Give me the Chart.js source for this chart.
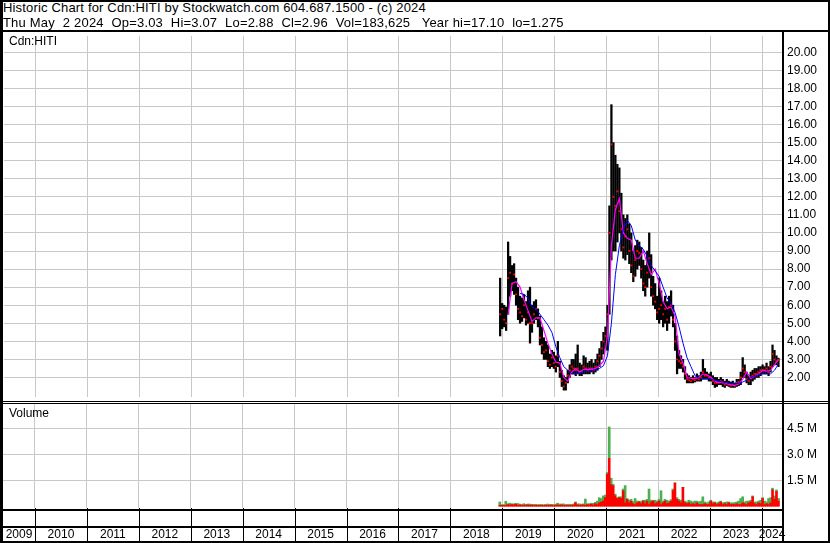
<!DOCTYPE html>
<html>
<head>
<meta charset="utf-8">
<script src="https://cdn.jsdelivr.net/npm/chart.js@4.4.1/dist/chart.umd.min.js"></script>
<style>
  body { margin: 0; background: #fff; }
  #wrap { position: relative; width: 830px; height: 543px; overflow: hidden;
          font-family: "Liberation Sans", Arial, sans-serif; font-size: 12px; color: #000; }
  #wrap canvas { position: absolute; left: 0; }
  .ln { position: absolute; background: #000; }
  .head { position: absolute; left: 3px; font-size: 13px; line-height: 15px; white-space: pre; letter-spacing: 0.17px; }
  .tag { position: absolute; left: 9px; line-height: 15px; white-space: pre; }
</style>
</head>
<body>
<div id="wrap">
  <canvas id="priceChart" width="830" height="369" style="top:32px"></canvas>
  <canvas id="volChart" width="830" height="139" style="top:404px"></canvas>

  <div class="head" style="top:0">Historic Chart for Cdn:HITI by Stockwatch.com 604.687.1500 - (c) 2024</div>
  <div class="head" style="top:15px;word-spacing:0.15px">Thu May  2 2024  Op=3.03  Hi=3.07  Lo=2.88  Cl=2.96  Vol=183,625   Year hi=17.10  lo=1.275</div>
  <div class="tag" style="top:34px">Cdn:HITI</div>
  <div class="tag" style="top:406px">Volume</div>

  <!-- frame -->
  <div class="ln" style="left:0;top:0;width:830px;height:2px"></div>
  <div class="ln" style="left:0;top:0;width:3px;height:543px"></div>
  <div class="ln" style="left:828px;top:0;width:2px;height:543px"></div>
  <div class="ln" style="left:0;top:541px;width:830px;height:2px"></div>
  <div class="ln" style="left:0;top:30px;width:830px;height:2px"></div>
  <div class="ln" style="left:782px;top:30px;width:2px;height:513px"></div>
  <div class="ln" style="left:0;top:401px;width:830px;height:1px"></div>
  <div class="ln" style="left:0;top:403px;width:830px;height:1px"></div>
  <div class="ln" style="left:0;top:509px;width:784px;height:2px"></div>
  <div class="ln" style="left:0;top:526px;width:784px;height:2px"></div>
</div>

<script>
// bars are every 2 weeks, moving averages every 4 weeks
var firstBar = '2018-12-14'
var barDays = 14
var maDays = 28

var xMin = 2009.384
var xMax = 2024.385
var years = [2010, 2011, 2012, 2013, 2014, 2015, 2016, 2017, 2018, 2019, 2020, 2021, 2022, 2023, 2024]

var priceTicks = [2, 3, 4, 5, 6, 7, 8, 9, 10, 11, 12, 13, 14, 15, 16, 17, 18, 19, 20]
var volTicks = [1.5, 3.0, 4.5]

var barHigh = [
  7.5, 6.1, 6.0, 5.9, 9.5, 8.7, 8.2, 8.3, 7.5, 7.0,
  6.5, 6.4, 6.6, 6.2, 6.8, 7.0, 6.0, 6.2, 6.3, 5.8,
  5.4, 4.8, 4.2, 4.0, 3.8, 3.3, 3.5, 3.4, 3.2, 4.0,
  2.9, 2.4, 2.1, 2.0, 2.4, 2.7, 3.0, 3.0, 3.3, 3.8,
  2.8, 2.7, 3.2, 3.1, 2.8, 2.9, 3.0, 2.8, 3.0, 3.3,
  3.6, 4.0, 4.5, 4.8, 6.0, 11.5, 17.1, 15.0, 14.3, 13.8,
  13.6, 12.2, 11.0, 10.8, 11.0, 10.5, 10.0, 9.0, 9.3, 9.6,
  9.5, 9.2, 8.5, 8.2, 9.0, 10.0, 8.8, 7.6, 7.2, 6.5,
  7.5, 6.8, 6.2, 6.5, 6.2, 6.5, 6.8, 6.0, 5.0, 4.3,
  3.5, 3.2, 3.0, 2.6, 2.2, 2.1, 2.0, 2.1, 2.0, 2.2,
  2.1, 2.3, 3.0, 2.5, 2.3, 2.2, 2.3, 2.1, 2.0, 2.0,
  1.9, 2.0, 1.9, 1.8, 1.9, 1.8, 1.75, 1.8, 1.7, 1.9,
  1.9, 2.3, 3.1, 2.7, 2.3, 2.1, 2.3, 2.4, 2.5, 2.5,
  2.6, 2.6, 2.7, 2.6, 2.8, 2.6, 2.9, 3.8, 3.5, 3.2,
  3.07
]

var barLow = [
  4.3, 4.7, 4.8, 4.6, 5.5, 6.5, 6.8, 6.6, 6.0, 5.2,
  5.0, 5.1, 5.3, 4.9, 5.0, 3.9, 4.5, 5.0, 5.2, 4.8,
  3.8, 3.3, 3.0, 3.0, 2.6, 2.5, 2.6, 2.5, 2.3, 2.6,
  2.0, 1.5, 1.3, 1.3, 1.7, 2.0, 2.2, 2.2, 2.1, 2.2,
  2.1, 2.1, 2.2, 2.2, 2.2, 2.2, 2.3, 2.2, 2.3, 2.4,
  2.6, 3.0, 3.3, 3.6, 3.5, 5.5, 8.5, 9.0, 9.0, 9.5,
  10.0, 9.0, 8.6, 8.5, 8.8, 8.3, 7.8, 7.3, 7.6, 8.0,
  8.2, 7.5, 6.8, 6.5, 7.0, 7.5, 6.5, 6.0, 5.8, 5.2,
  5.0, 5.2, 4.8, 5.0, 4.6, 5.0, 5.4, 4.8, 3.5, 2.2,
  2.5, 2.5, 2.3, 1.9, 1.7, 1.7, 1.7, 1.7, 1.75, 1.8,
  1.8, 1.8, 1.9, 1.9, 1.9, 1.8, 1.8, 1.6, 1.45, 1.5,
  1.6, 1.6, 1.5, 1.45, 1.55, 1.5, 1.45, 1.45, 1.45, 1.5,
  1.55, 1.6, 2.0, 2.0, 1.7, 1.6, 1.6, 1.8, 1.9, 2.0,
  2.0, 2.1, 2.2, 2.2, 2.2, 2.1, 2.3, 2.6, 2.7, 2.7,
  2.6
]

var barClose = [
  5.5, 5.8, 5.2, 5.0, 7.5, 7.8, 7.2, 7.7, 6.6, 5.8,
  5.6, 5.4, 6.0, 5.2, 5.6, 5.0, 5.0, 5.5, 5.8, 5.3,
  4.2, 3.8, 3.4, 3.5, 2.9, 2.7, 3.1, 2.8, 2.6, 3.2,
  2.3, 1.8, 1.5, 1.7, 2.1, 2.4, 2.6, 2.5, 2.4, 2.5,
  2.3, 2.3, 2.6, 2.5, 2.4, 2.5, 2.5, 2.4, 2.6, 2.9,
  3.2, 3.6, 4.0, 4.3, 5.5, 10.0, 14.9, 12.0, 11.5, 12.3,
  11.2, 10.2, 9.2, 9.8, 10.2, 9.0, 8.2, 7.6, 8.5, 9.0,
  8.9, 8.0, 7.2, 7.0, 7.8, 8.6, 7.0, 6.5, 6.2, 5.6,
  5.8, 6.0, 5.5, 5.8, 5.2, 5.9, 6.0, 5.2, 4.0, 3.0,
  2.9, 2.8, 2.6, 2.2, 1.9, 1.85, 1.8, 1.9, 1.85, 1.95,
  1.9, 2.0, 2.3, 2.1, 2.1, 2.0, 2.0, 1.8, 1.7, 1.7,
  1.75, 1.8, 1.7, 1.6, 1.7, 1.6, 1.55, 1.6, 1.55, 1.7,
  1.75, 2.0, 2.5, 2.3, 1.9, 1.8, 2.0, 2.1, 2.2, 2.2,
  2.3, 2.4, 2.4, 2.4, 2.5, 2.3, 2.6, 3.3, 3.0, 2.9,
  2.96
]

// short (magenta) and long (blue) moving averages
var maShort = [
  null, null, 5.5, 7.2, 7.3, 7.0, 6.3, 5.7, 5.1, 5.3,
  5.3, 4.6, 3.9, 3.3, 2.85, 2.8, 2.0, 1.8, 2.3, 2.5,
  2.3, 2.45, 2.45, 2.45, 2.5, 2.65, 2.9, 4.3, 9.3, 11.3,
  11.9, 10.0, 9.7, 9.6, 8.6, 8.6, 9.0, 8.3, 7.7, 8.0,
  7.2, 6.2, 5.8, 5.9, 5.4, 3.3, 2.8, 2.0, 1.95, 1.95,
  2.0, 2.2, 2.15, 2.0, 1.8, 1.7, 1.75, 1.65, 1.6, 1.55,
  1.65, 1.9, 2.3, 1.95, 2.05, 2.2, 2.4, 2.35, 2.4, 2.7,
  3.0
]

var maLong = [
  null, null, null, null, null, 6.65, 6.6, 6.4, 5.9, 5.8,
  5.5, 5.2, 4.9, 4.5, 3.7, 3.1, 2.6, 2.4, 2.2, 2.2,
  2.25, 2.3, 2.35, 2.35, 2.45, 2.5, 2.65, 3.2, 5.0, 7.7,
  9.3, 10.2, 10.7, 10.4, 9.6, 9.3, 9.1, 8.7, 8.2, 7.9,
  7.6, 7.0, 6.4, 6.1, 5.6, 4.8, 3.9, 3.1, 2.6, 2.1,
  1.95, 1.95, 1.95, 1.9, 1.85, 1.8, 1.75, 1.7, 1.68, 1.65,
  1.68, 1.75, 1.85, 2.0, 2.05, 2.15, 2.2, 2.2, 2.2, 2.4,
  2.75
]

// volume in millions, down (red) and up (green)
var volDown = [
  .05, .06, .05, .04, .1, .08, .1, .08, .12, .06,
  .08, .05, .07, .06, .08, .06, .07, .05, .06, .05,
  .06, .05, .05, .06, .05, .06, .07, .05, .06, .08,
  .06, .08, .06, .05, .06, .05, .06, .07, .2, .08,
  .06, .07, .08, .06, .1, .08, .12, .07, .15, .1,
  .2, .25, .3, .5, 1.86, 2.77, 1.25, 1.18, .6, .45,
  .5, .45, .9, .2, .4, .2, .3, .15, .1, .2,
  .25, .15, .3, .15, .3, .1, .25, .3, .15, .2,
  .3, .1, .2, .3, .15, .2, .3, .9, 1.35, .4,
  .3, .2, 1.1, .2, .15, .2, .1, .15, .1, .2,
  .1, .1, .1, .15, .1, .1, .3, .15, .2, .1,
  .15, .25, .1, .15, .1, .2, .1, .12, .1, .15,
  .1, .1, .2, .15, .1, .2, .25, .55, .15, .1,
  .2, .15, .45, .1, .15, .1, .2, .95, .4, .85,
  .3
]

var volUp = [
  .2, .03, .05, .25, .05, .1, .05, .06, .05, .1,
  .05, .06, .08, .05, .05, .07, .04, .06, .05, .05,
  .04, .06, .04, .05, .08, .05, .04, .05, .06, .1,
  .07, .05, .08, .06, .05, .07, .05, .06, .05, .06,
  .08, .05, .06, .36, .05, .07, .06, .1, .08, .2,
  .3, .2, .3, .15, .1, 1.83, .38, .1, .1, .05,
  .05, .1, .1, 1.0, .05, .15, .1, .12, .35, .1,
  .05, .12, .05, .2, .1, .9, .1, .05, .2, .1,
  .1, .8, .1, .1, .2, .1, .08, .1, 0, .1,
  .1, .15, 0, .1, .1, .15, .2, .1, .2, .1,
  .15, .2, .45, .1, .1, .15, .05, .1, .05, .1,
  .1, .05, .1, .08, .15, .05, .1, .08, .12, .1,
  .2, .35, .35, .1, .2, .1, .1, .05, .1, .15,
  .1, .2, .05, .2, .1, .35, .3, .1, .2, .1,
  .15
]

var gridGrey = '#c8c8c8'

Chart.defaults.font.family = '"Liberation Sans", Arial, sans-serif'
Chart.defaults.font.size = 12
Chart.defaults.color = '#000'

// data da barra -> ano decimal
function anoDecimal(dias) {
  var d = new Date(firstBar + 'T00:00:00Z')
  d.setUTCDate(d.getUTCDate() + dias)
  var y = d.getUTCFullYear()
  var a = Date.UTC(y, 0, 1)
  var b = Date.UTC(y + 1, 0, 1)
  return y + (d.getTime() - a) / (b - a)
}

var rangePts = []
var closePts = []
for (let i = 0; i < barHigh.length; i++) {
  var x = anoDecimal(i * barDays)
  rangePts.push({ x: x, y: [barLow[i], barHigh[i]] })
  closePts.push({ x: x, y: barClose[i] })
}

var shortPts = []
var longPts = []
for (let i = 0; i < maShort.length; i++) {
  var x = anoDecimal(i * maDays)
  if (maShort[i] != null) shortPts.push({ x: x, y: maShort[i] })
  if (maLong[i] != null) longPts.push({ x: x, y: maLong[i] })
}

var downPts = []
var upPts = []
for (let i = 0; i < volDown.length; i++) {
  var x = anoDecimal(i * barDays)
  downPts.push({ x: x, y: volDown[i] })
  upPts.push({ x: x, y: volUp[i] })
}

// tira o padding automático que o Chart.js põe nas escalas
function semPadding(s) {
  s.paddingTop = 0
  s.paddingBottom = 0
  s.paddingLeft = 0
  s.paddingRight = 0
}

var yearGrid = {
  type: 'linear',
  min: xMin,
  max: xMax,
  offset: false,
  border: { display: false },
  grid: { color: gridGrey, drawTicks: false, offset: false },
  ticks: { display: false },
  afterBuildTicks: function (s) {
    s.ticks = years.map(v => ({ value: v }))
  },
  afterFit: function (s) { s.height = 0; semPadding(s) }
}

new Chart(document.getElementById('priceChart'), {
  type: 'bar',
  data: {
    datasets: [
      { type: 'line', data: longPts, borderColor: '#0000ff', borderWidth: 1, pointRadius: 0, tension: 0 },
      { type: 'line', data: shortPts, borderColor: '#ff00ff', borderWidth: 1.2, pointRadius: 0, tension: 0 },
      { type: 'line', data: closePts, showLine: false, pointStyle: 'rect', pointRadius: 1.3,
        pointBackgroundColor: '#ff0000', pointBorderWidth: 0 },
      { type: 'bar', data: rangePts, backgroundColor: '#000000', barThickness: 1.6, grouped: false }
    ]
  },
  options: {
    responsive: false,
    animation: false,
    layout: { padding: { left: 3 } },
    plugins: { legend: { display: false }, tooltip: { enabled: false } },
    scales: {
      x: yearGrid,
      y: {
        position: 'right',
        min: 0.92,
        max: 20.9,
        border: { display: false },
        grid: { color: gridGrey, drawTicks: false },
        ticks: { padding: 5, callback: v => v.toFixed(2) },
        afterBuildTicks: function (s) {
          s.ticks = priceTicks.map(v => ({ value: v }))
        },
        afterFit: function (s) { s.width = 48; semPadding(s) }
      }
    }
  }
})

// divisórias pretas dos anos na faixa de baixo
var yearBand = {
  id: 'yearBand',
  afterDraw: function (chart) {
    var ctx = chart.ctx
    var sx = chart.scales.x
    ctx.save()
    ctx.fillStyle = '#000'
    for (let i = 0; i < years.length; i++) {
      var px = Math.round(sx.getPixelForValue(years[i]))
      ctx.fillRect(px, chart.chartArea.bottom, 1, chart.height - chart.chartArea.bottom)
    }
    ctx.restore()
  }
}

var volX = Object.assign({}, yearGrid, {
  grid: {
    drawTicks: false,
    offset: false,
    color: c => Number.isInteger(c.tick.value) ? gridGrey : 'rgba(0,0,0,0)'
  },
  ticks: {
    display: true,
    autoSkip: false,
    maxRotation: 0,
    padding: 19,
    callback: v => Number.isInteger(v) ? '' : String(Math.floor(v))
  },
  afterBuildTicks: function (s) {
    var t = []
    t.push({ value: (xMin + years[0]) / 2 })
    for (let i = 0; i < years.length; i++) {
      t.push({ value: years[i] })
      var next = i + 1 < years.length ? years[i + 1] : xMax
      t.push({ value: (years[i] + next) / 2 })
    }
    s.ticks = t
  },
  afterFit: function (s) { s.height = 35; semPadding(s) }
})

new Chart(document.getElementById('volChart'), {
  type: 'bar',
  data: {
    datasets: [
      { data: downPts, backgroundColor: '#ff0000', barThickness: 2, grouped: false },
      { data: upPts, backgroundColor: '#4caf50', barThickness: 2, grouped: false }
    ]
  },
  options: {
    responsive: false,
    animation: false,
    layout: { padding: { left: 3 } },
    plugins: { legend: { display: false }, tooltip: { enabled: false } },
    scales: {
      x: volX,
      y: {
        position: 'right',
        stacked: true,
        min: -0.1,
        max: 5.93,
        border: { display: false },
        grid: { color: gridGrey, drawTicks: false },
        ticks: { padding: 5, callback: v => v.toFixed(1) + ' M' },
        afterBuildTicks: function (s) {
          s.ticks = volTicks.map(v => ({ value: v }))
        },
        afterFit: function (s) { s.width = 48; semPadding(s) }
      }
    }
  },
  plugins: [yearBand]
})
</script>
</body>
</html>
